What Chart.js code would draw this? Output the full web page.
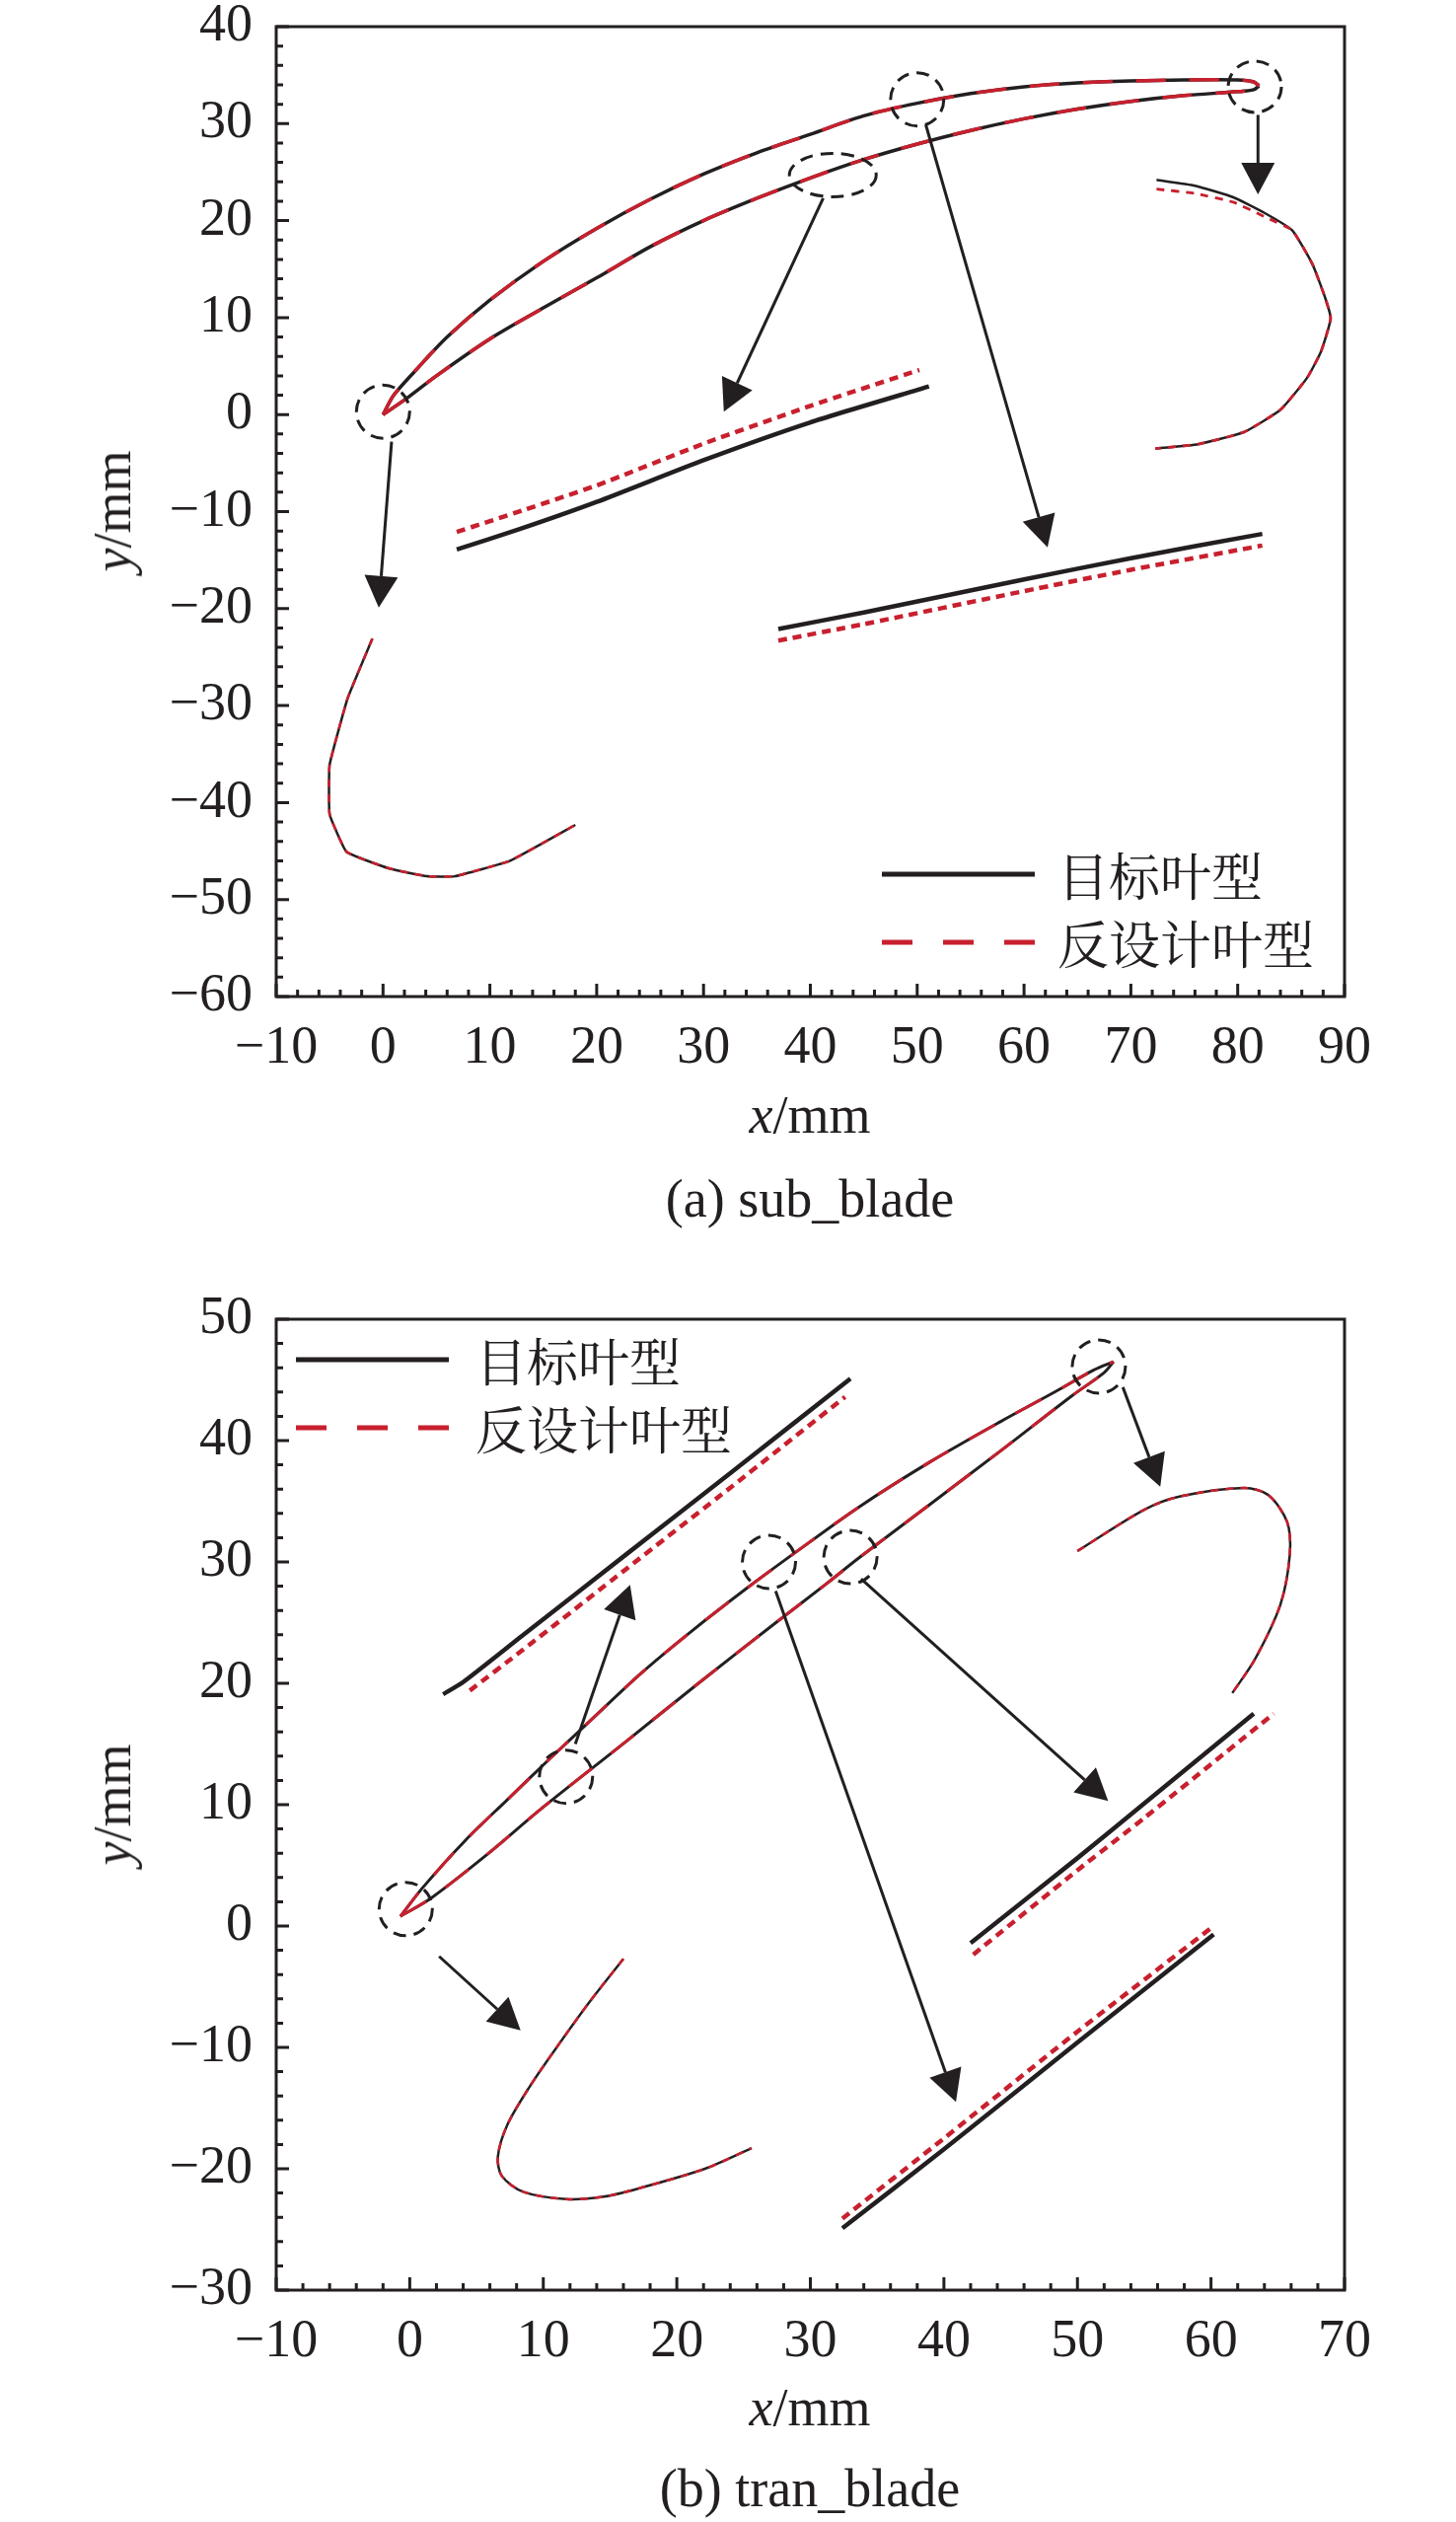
<!DOCTYPE html>
<html>
<head>
<meta charset="utf-8">
<script src="https://cdn.jsdelivr.net/npm/chart.js@4.4.1/dist/chart.umd.min.js"></script>
<style>
html, body { margin: 0; padding: 0; background: #fff; }
body { width: 1476px; height: 2556px; position: relative; overflow: hidden;
       font-family: "Liberation Serif", "Times New Roman", serif; color: #231f20; }
.panel { position: absolute; left: 0; width: 1476px; }
.lbl { position: absolute; font-size: 54px; line-height: 1; white-space: nowrap;
       transform: translate(-50%, -50%); }
.ylbl { transform: translate(-50%, -50%) rotate(-90deg); }
</style>
</head>
<body>
<div class="panel" style="top:0;height:1260px"><canvas id="subChart"></canvas></div>
<div class="panel" style="top:1260px;height:1296px"><canvas id="tranChart"></canvas></div>

<div class="lbl ylbl" style="left:114px;top:518px"><i>y</i>/mm</div>
<div class="lbl" style="left:821px;top:1130px"><i>x</i>/mm</div>
<div class="lbl" style="left:821px;top:1215px">(a) sub_blade</div>
<div class="lbl ylbl" style="left:114px;top:1829px"><i>y</i>/mm</div>
<div class="lbl" style="left:821px;top:2440px"><i>x</i>/mm</div>
<div class="lbl" style="left:821px;top:2522px">(b) tran_blade</div>

<script>
// Blade profile comparison: target profile (black) vs inverse-designed profile (red)

const BLACK = '#231f20';
const RED = '#c8202e';
const legendLabels = ['目标叶型', '反设计叶型'];

// ---- (a) sub_blade ----
const subUpperX = [0, 1, 3, 6, 10, 15, 20, 25, 30, 35, 40, 45, 50, 55, 60, 65, 70, 75, 80, 81.5, 82];
const subUpperY = [0, 2, 4.5, 8, 11.8, 15.8, 19.2, 22.2, 24.8, 27, 28.9, 30.8, 32.1, 33.1, 33.8, 34.2, 34.4, 34.5, 34.5, 34.3, 33.9];
const subLowerX = [0, 2, 5, 10, 15, 20, 25, 30, 35, 40, 45, 50, 55, 60, 65, 70, 75, 80, 81.5, 82];
const subLowerY = [0, 1.5, 4, 7.8, 11, 14.1, 17.3, 20, 22.3, 24.4, 26.3, 27.9, 29.3, 30.5, 31.5, 32.3, 32.9, 33.3, 33.5, 33.9];

// leading edge close-up
const subLeX = [-1.0, -3.3, -5.0, -5.0, -3.4, 0.6, 4.1, 6.7, 11.9, 18.0];
const subLeY = [-23.1, -29.2, -36.1, -41.2, -45.1, -46.8, -47.6, -47.6, -46.0, -42.3];
// trailing edge close-up
const subTeX = [72.4, 76, 79.6, 82.5, 85.1, 87, 88.2, 88.7, 87.8, 86.5, 84, 80.6, 76.3, 72.3];
const subTeY = [24.2, 23.6, 22.4, 20.8, 19.0, 15.5, 12, 9.9, 6.5, 3.8, 0.5, -1.8, -3.05, -3.5];
const subTeRedY = [23.25, 22.8, 21.9, 20.4, 19.0, 15.5, 12, 9.9, 6.5, 3.8, 0.5, -1.8, -3.05, -3.5];
// pressure side close-up
const subPsX = [6.9, 12.8, 20, 30, 40, 51.1];
const subPsY = [-13.9, -11.8, -9.0, -4.7, -0.8, 2.9];
const subPsRedX = [6.9, 13, 20, 30, 40, 50.2];
const subPsRedY = [-12.1, -9.9, -7.3, -3.0, 0.9, 4.6];
// suction side close-up
const subSsX = [37, 45, 60, 70, 82.3];
const subSsY = [-22.1, -20.4, -17.0, -14.8, -12.3];
const subSsRedY = [-23.3, -21.6, -18.2, -16.0, -13.5];

// ---- (b) tran_blade ----
const tranUpperX = [-0.7, 1.0, 4.2, 7.3, 10.5, 13.6, 17.3, 21.0, 25.2, 28.9, 33.6, 38.9, 44.3, 48.3, 51.2, 52.7];
const tranUpperY = [0.8, 3.2, 7.1, 10.4, 13.8, 17.0, 20.8, 24.2, 27.8, 30.8, 34.5, 38.2, 41.6, 44.0, 45.8, 46.5];
const tranLowerX = [-0.7, 1.6, 5.8, 10.0, 16.3, 21.5, 27.3, 31.2, 33.6, 38.9, 44.3, 49.6, 52.0, 52.7];
const tranLowerY = [0.8, 2.3, 5.9, 9.8, 15.3, 19.9, 24.9, 28.2, 30.3, 34.7, 39.2, 43.7, 45.6, 46.5];

const tranLeX = [16.0, 13.5, 11, 9, 7.3, 6.6, 6.9, 8.5, 11.7, 14.5, 17.2, 22.1, 25.6];
const tranLeY = [-2.7, -6.2, -10, -13.2, -16.4, -19, -20.6, -21.9, -22.5, -22.3, -21.6, -20, -18.3];
const tranTeX = [50.0, 55.0, 57.7, 62.5, 64.3, 65.7, 65.9, 65.2, 63.3, 61.6];
const tranTeY = [30.9, 34.3, 35.4, 36.1, 35.5, 33.3, 30.6, 26.5, 22.0, 19.2];
// close-up near x=12 (suction side)
const tranSsX = [2.5, 4, 8.4, 16.3, 24.1, 33.0];
const tranSsY = [19.1, 20.1, 23.9, 30.7, 37.4, 45.1];
const tranSsRedX = [4.5, 8.4, 16.3, 24.1, 32.6];
const tranSsRedY = [19.4, 22.7, 29.5, 36.2, 43.6];
// close-up near x=33 (pressure side)
const tranPsX = [42.0, 50, 55, 63.2];
const tranPsY = [-1.4, 5.6, 10.1, 17.5];
const tranPsRedX = [42.2, 50, 55, 64.7];
const tranPsRedY = [-2.35, 4.6, 8.9, 17.5];
// close-up near x=27 (suction side)
const tranMidX = [32.4, 40, 50, 60.2];
const tranMidY = [-24.9, -18.4, -9.6, -0.7];
const tranMidRedY = [-24.1, -17.5, -8.7, 0.0];

// annotation marks: dashed circles [x, y, rxPx, ryPx] and arrows [x1, y1, x2, y2]
const subCircles = [[0, 0.3, 27, 27], [42.1, 24.7, 44, 22], [50.0, 32.5, 27, 27], [81.6, 33.8, 27, 26]];
const subArrows = [[0.8, -2.8, -0.4, -19.9], [41.2, 22.3, 31.9, 0.3], [50.8, 29.9, 62.2, -13.7], [81.9, 30.9, 81.9, 22.7]];
const tranCircles = [[-0.3, 1.4, 27, 27], [11.7, 12.3, 27, 27], [26.9, 30.0, 27, 27], [33.0, 30.4, 27, 27], [51.6, 46.1, 27, 27]];
const tranArrows = [[2.2, -2.5, 8.3, -8.6], [12.4, 15.0, 16.5, 28.1], [27.4, 27.6, 40.9, -14.5], [33.8, 28.6, 52.3, 10.3], [53.4, 44.4, 56.2, 36.2]];

function pts(xs, ys) {
    return xs.map((x, i) => ({ x: x, y: ys[i] }));
}

function line(xs, ys, color, width, dash, order, tension) {
    return {
        data: pts(xs, ys),
        showLine: true,
        borderColor: color,
        borderWidth: width,
        borderDash: dash || [],
        pointRadius: 0,
        pointHoverRadius: 0,
        fill: false,
        tension: tension || 0,
        order: order
    };
}

function fmt(v) {
    return v < 0 ? '\u2212' + Math.abs(v) : String(v);
}

/**
 * Box frame with inward major and minor ticks
 */
function framePlugin() {
    return {
        id: 'frameTicks',
        afterDatasetsDraw(chart) {
            const { ctx, chartArea: ca } = chart;
            const xs = chart.scales.x, ys = chart.scales.y;
            ctx.save();
            ctx.strokeStyle = BLACK;
            ctx.lineWidth = 3;
            ctx.setLineDash([]);
            ctx.strokeRect(ca.left, ca.top, ca.right - ca.left, ca.bottom - ca.top);
            ctx.beginPath();
            for (let v = xs.min; v <= xs.max + 0.001; v += 2) {
                const p = xs.getPixelForValue(v);
                const len = Math.abs(v % 10) < 0.001 ? 13 : 7;
                ctx.moveTo(p, ca.bottom);
                ctx.lineTo(p, ca.bottom - len);
            }
            for (let v = ys.min; v <= ys.max + 0.001; v += 2) {
                const p = ys.getPixelForValue(v);
                const len = Math.abs(v % 10) < 0.001 ? 13 : 7;
                ctx.moveTo(ca.left, p);
                ctx.lineTo(ca.left + len, p);
            }
            ctx.stroke();
            ctx.restore();
        }
    };
}

/**
 * Dashed circles and arrows pointing to the close-ups
 */
function marksPlugin(circles, arrows) {
    return {
        id: 'marks',
        afterDatasetsDraw(chart) {
            const { ctx } = chart;
            const xs = chart.scales.x, ys = chart.scales.y;
            ctx.save();
            ctx.strokeStyle = BLACK;
            ctx.fillStyle = BLACK;
            ctx.lineWidth = 3;
            ctx.setLineDash([13, 8]);
            circles.forEach(c => {
                ctx.beginPath();
                ctx.ellipse(xs.getPixelForValue(c[0]), ys.getPixelForValue(c[1]), c[2], c[3], 0, 0, Math.PI * 2);
                ctx.stroke();
            });
            ctx.setLineDash([]);
            arrows.forEach(a => {
                const x1 = xs.getPixelForValue(a[0]), y1 = ys.getPixelForValue(a[1]);
                const x2 = xs.getPixelForValue(a[2]), y2 = ys.getPixelForValue(a[3]);
                const len = Math.hypot(x2 - x1, y2 - y1);
                const ux = (x2 - x1) / len, uy = (y2 - y1) / len;
                const headL = 32, headW = 34;
                const bx = x2 - ux * headL, by = y2 - uy * headL;
                ctx.beginPath();
                ctx.moveTo(x1, y1);
                ctx.lineTo(bx, by);
                ctx.stroke();
                ctx.beginPath();
                ctx.moveTo(x2, y2);
                ctx.lineTo(bx - uy * headW / 2, by + ux * headW / 2);
                ctx.lineTo(bx + uy * headW / 2, by - ux * headW / 2);
                ctx.closePath();
                ctx.fill();
            });
            ctx.restore();
        }
    };
}

/**
 * Legend drawn inside the plot area
 */
function legendPlugin(dx, dy, textGap) {
    return {
        id: 'insideLegend',
        afterDraw(chart) {
            const { ctx, chartArea: ca } = chart;
            const x0 = ca.left + dx, len = 155, gap = 69;
            const styles = [{ color: BLACK, dash: [] }, { color: RED, dash: [31, 31] }];
            ctx.save();
            legendLabels.forEach((label, i) => {
                const y = ca.top + dy + i * gap;
                ctx.strokeStyle = styles[i].color;
                ctx.lineWidth = 5;
                ctx.setLineDash(styles[i].dash);
                ctx.beginPath();
                ctx.moveTo(x0, y);
                ctx.lineTo(x0 + len, y);
                ctx.stroke();
                ctx.setLineDash([]);
                ctx.fillStyle = BLACK;
                ctx.font = '52px "Noto Serif CJK SC", "Noto Sans CJK SC", sans-serif';
                ctx.textBaseline = 'middle';
                ctx.textAlign = 'left';
                ctx.fillText(label, x0 + len + textGap, y + 2);
            });
            ctx.restore();
        }
    };
}

function createBladeChart(id, cfg) {
    const ctx = document.getElementById(id);
    return new Chart(ctx, {
        type: 'scatter',
        data: { datasets: cfg.datasets },
        options: {
            responsive: true,
            maintainAspectRatio: false,
            animation: false,
            events: [],
            layout: { padding: { left: 0, top: cfg.padTop, right: 113, bottom: 0 } },
            plugins: { legend: { display: false }, tooltip: { enabled: false } },
            scales: {
                x: {
                    type: 'linear',
                    min: cfg.xMin,
                    max: cfg.xMax,
                    grid: { display: false, drawTicks: false },
                    border: { display: false },
                    ticks: { stepSize: 10, autoSkip: false, maxRotation: 0, padding: 20, callback: fmt },
                    afterFit: s => { s.height = cfg.xAxisH; s.paddingLeft = 0; s.paddingRight = 0; }
                },
                y: {
                    type: 'linear',
                    min: cfg.yMin,
                    max: cfg.yMax,
                    grid: { display: false, drawTicks: false },
                    border: { display: false },
                    ticks: { stepSize: 10, autoSkip: false, padding: 24, callback: fmt },
                    afterFit: s => { s.width = 280; s.paddingTop = 0; s.paddingBottom = 0; }
                }
            }
        },
        plugins: [framePlugin(), marksPlugin(cfg.circles, cfg.arrows), legendPlugin(cfg.legendDx, cfg.legendDy, cfg.legendGap)]
    });
}

Chart.defaults.font.family = '"Liberation Serif", "Times New Roman", serif';
Chart.defaults.font.size = 54;
Chart.defaults.color = BLACK;

const bladeDash = [30, 24];
const thinDash = [8, 7];
const dotDash = [9, 6];

createBladeChart('subChart', {
    xMin: -10, xMax: 90, yMin: -60, yMax: 40,
    padTop: 27, xAxisH: 250,
    circles: subCircles, arrows: subArrows,
    legendDx: 614, legendDy: 859, legendGap: 23,
    datasets: [
        line(subUpperX, subUpperY, BLACK, 3.5, [], 1, 0.3),
        line(subLowerX, subLowerY, BLACK, 3.5, [], 1, 0.3),
        line(subUpperX, subUpperY, RED, 3.5, bladeDash, 0, 0.3),
        line(subLowerX, subLowerY, RED, 3.5, bladeDash, 0, 0.3),
        line(subLeX, subLeY, BLACK, 2.5, [], 1, 0.1),
        line(subLeX, subLeY, RED, 2.5, thinDash, 0, 0.1),
        line(subTeX, subTeY, BLACK, 2.5, [], 1, 0.15),
        line(subTeX, subTeRedY, RED, 2.8, thinDash, 0, 0.15),
        line(subPsX, subPsY, BLACK, 4.5, [], 1, 0.2),
        line(subPsRedX, subPsRedY, RED, 4.5, dotDash, 0, 0.2),
        line(subSsX, subSsY, BLACK, 4.5, [], 1, 0.2),
        line(subSsX, subSsRedY, RED, 4.5, dotDash, 0, 0.2)
    ]
});

createBladeChart('tranChart', {
    xMin: -10, xMax: 70, yMin: -30, yMax: 50,
    padTop: 77, xAxisH: 235,
    circles: tranCircles, arrows: tranArrows,
    legendDx: 20, legendDy: 41, legendGap: 27,
    datasets: [
        line(tranUpperX, tranUpperY, BLACK, 3, [], 1, 0.3),
        line(tranLowerX, tranLowerY, BLACK, 3, [], 1, 0.3),
        line(tranUpperX, tranUpperY, RED, 3, bladeDash, 0, 0.3),
        line(tranLowerX, tranLowerY, RED, 3, bladeDash, 0, 0.3),
        line(tranLeX, tranLeY, BLACK, 2.5, [], 1, 0.3),
        line(tranLeX, tranLeY, RED, 2.5, thinDash, 0, 0.3),
        line(tranTeX, tranTeY, BLACK, 2.5, [], 1, 0.3),
        line(tranTeX, tranTeY, RED, 2.5, thinDash, 0, 0.3),
        line(tranSsX, tranSsY, BLACK, 4.5, [], 1, 0.2),
        line(tranSsRedX, tranSsRedY, RED, 4.5, dotDash, 0, 0.2),
        line(tranPsX, tranPsY, BLACK, 4.5, [], 1, 0.2),
        line(tranPsRedX, tranPsRedY, RED, 4.5, dotDash, 0, 0.2),
        line(tranMidX, tranMidY, BLACK, 4.5, [], 1, 0.2),
        line(tranMidX, tranMidRedY, RED, 4.5, dotDash, 0, 0.2)
    ]
});
</script>
</body>
</html>
